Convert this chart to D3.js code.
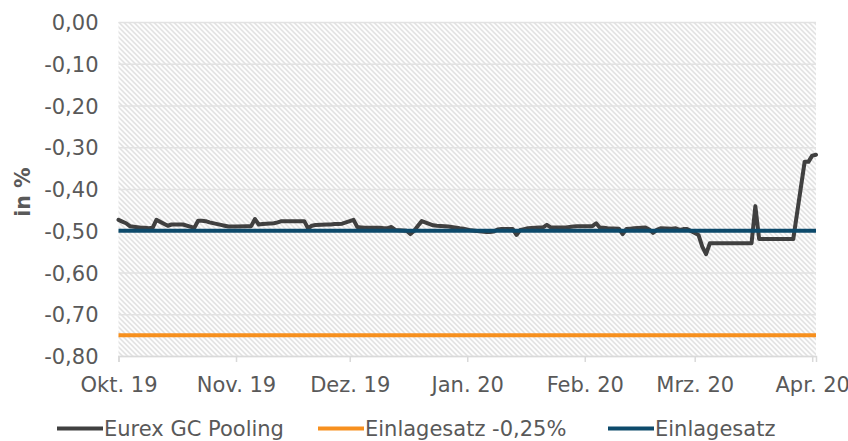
<!DOCTYPE html>
<html>
<head>
<meta charset="utf-8">
<script src="https://cdn.jsdelivr.net/npm/d3@7"></script>
<style>
  body { margin: 0; background: #fff; }
  svg { display: block; }
  svg text { font-family: "DejaVu Sans", Verdana, sans-serif; }
</style>
</head>
<body>
<script>
// Eurex GC Pooling, daily values (in %)
var poolDates = [
  "2019-10-01","2019-10-02","2019-10-03","2019-10-04","2019-10-07","2019-10-08","2019-10-09","2019-10-10","2019-10-11",
  "2019-10-14","2019-10-15","2019-10-16","2019-10-17","2019-10-18","2019-10-21","2019-10-22","2019-10-23","2019-10-24","2019-10-25",
  "2019-10-28","2019-10-29","2019-10-30","2019-10-31","2019-11-01","2019-11-04","2019-11-05","2019-11-06","2019-11-07","2019-11-08",
  "2019-11-11","2019-11-12","2019-11-13","2019-11-14","2019-11-15","2019-11-18","2019-11-19","2019-11-20","2019-11-21","2019-11-22",
  "2019-11-25","2019-11-26","2019-11-27","2019-11-28","2019-11-29","2019-12-02","2019-12-03","2019-12-04","2019-12-05","2019-12-06",
  "2019-12-09","2019-12-10","2019-12-11","2019-12-12","2019-12-13","2019-12-16","2019-12-17","2019-12-18","2019-12-19","2019-12-20",
  "2019-12-23","2019-12-24","2019-12-27","2019-12-30","2019-12-31","2020-01-02","2020-01-03","2020-01-06","2020-01-07","2020-01-08",
  "2020-01-09","2020-01-10","2020-01-13","2020-01-14","2020-01-15","2020-01-16","2020-01-17","2020-01-20","2020-01-21","2020-01-22",
  "2020-01-23","2020-01-24","2020-01-27","2020-01-28","2020-01-29","2020-01-30","2020-01-31","2020-02-03","2020-02-04","2020-02-05",
  "2020-02-06","2020-02-07","2020-02-10","2020-02-11","2020-02-12","2020-02-13","2020-02-14","2020-02-17","2020-02-18","2020-02-19",
  "2020-02-20","2020-02-21","2020-02-24","2020-02-25","2020-02-26","2020-02-27","2020-02-28","2020-03-02","2020-03-03","2020-03-04",
  "2020-03-05","2020-03-06","2020-03-09","2020-03-10","2020-03-11","2020-03-12","2020-03-13","2020-03-16","2020-03-17","2020-03-18",
  "2020-03-19","2020-03-20","2020-03-23","2020-03-24","2020-03-25","2020-03-26","2020-03-27","2020-03-30","2020-03-31","2020-04-01",
  "2020-04-02"
];
var poolValues = [
  -0.474,-0.478,-0.482,-0.489,-0.493,-0.493,-0.494,-0.493,-0.474,
  -0.488,-0.485,-0.485,-0.485,-0.485,-0.493,-0.476,-0.476,-0.477,-0.480,
  -0.486,-0.488,-0.490,-0.490,-0.490,-0.489,-0.489,-0.472,-0.485,-0.484,
  -0.482,-0.480,-0.477,-0.477,-0.477,-0.477,-0.477,-0.494,-0.488,-0.486,
  -0.485,-0.485,-0.484,-0.484,-0.483,-0.474,-0.491,-0.492,-0.493,-0.493,
  -0.493,-0.494,-0.494,-0.491,-0.498,-0.500,-0.508,-0.500,-0.488,-0.477,
  -0.487,-0.488,-0.490,-0.494,-0.495,-0.499,-0.500,-0.503,-0.503,-0.502,
  -0.497,-0.496,-0.496,-0.510,-0.498,-0.496,-0.494,-0.492,-0.492,-0.486,
  -0.492,-0.492,-0.492,-0.491,-0.490,-0.489,-0.489,-0.489,-0.482,-0.493,
  -0.493,-0.494,-0.495,-0.508,-0.496,-0.495,-0.494,-0.492,-0.497,-0.505,
  -0.498,-0.494,-0.495,-0.494,-0.498,-0.496,-0.496,-0.510,-0.538,-0.556,
  -0.530,-0.530,-0.530,-0.530,-0.530,-0.530,-0.530,-0.530,-0.441,-0.520,
  -0.520,-0.520,-0.520,-0.520,-0.520,-0.520,-0.520,-0.335,-0.335,-0.320,
  -0.318
];

// Einlagesatz and Einlagesatz -0,25%
var rateDates = ["2019-10-01", "2020-04-02"];
var depositValues = [-0.50, -0.50];
var depositMinusValues = [-0.75, -0.75];

// axis ticks
var xTickDates = ["2019-10-01","2019-11-01","2019-12-01","2020-01-01","2020-02-01","2020-03-01","2020-04-01"];
var xTickLabels = ["Okt. 19","Nov. 19","Dez. 19","Jan. 20","Feb. 20","Mrz. 20","Apr. 20"];
var yTicks = [0, -0.1, -0.2, -0.3, -0.4, -0.5, -0.6, -0.7, -0.8];
var yTickLabels = ["0,00","-0,10","-0,20","-0,30","-0,40","-0,50","-0,60","-0,70","-0,80"];

var seriesNames = ["Eurex GC Pooling", "Einlagesatz -0,25%", "Einlagesatz"];
var seriesColors = ["#404040", "#f7901e", "#0d4a6b"];

var parseDate = d3.timeParse("%Y-%m-%d");
var fontFamily = "DejaVu Sans, Verdana, sans-serif";

// Define margins
var margin = {top: 22, right: 32, bottom: 85, left: 118.5};
var outer_width = 848;
var outer_height = 441;
var width = outer_width - margin.left - margin.right;
var height = outer_height - margin.top - margin.bottom;

var svgRoot = d3.select("body").append("svg")
  .attr("width", outer_width)
  .attr("height", outer_height);

// hatched plot background
var defs = svgRoot.append("defs");
var pat = defs.append("pattern")
  .attr("id", "hatch")
  .attr("patternUnits", "userSpaceOnUse")
  .attr("width", 5).attr("height", 5);
pat.append("rect").attr("width", 5).attr("height", 5).attr("fill", "#fff");
pat.append("path")
  .attr("d", "M-1,-1 L6,6 M-1,4 L1,6 M4,-1 L6,1")
  .attr("stroke", "#dadada")
  .attr("stroke-width", 1.3);

var svg = svgRoot.append("g")
  .attr("transform", "translate(" + margin.left + "," + margin.top + ")");

var xScale = d3.scaleTime()
  .domain([parseDate(rateDates[0]), parseDate(rateDates[1])])
  .range([0, width]);

var yScale = d3.scaleLinear()
  .domain([-0.8, 0])
  .range([height, 0]);

svg.append("rect")
  .attr("width", width)
  .attr("height", height)
  .attr("fill", "url(#hatch)");

// horizontal gridlines
var grid = svg.append("g")
  .attr("class", "grid")
  .call(d3.axisLeft(yScale).tickValues(yTicks).tickSize(-width).tickFormat(""));
grid.select(".domain").remove();
grid.selectAll("line").attr("stroke", "#e2e2e2").attr("stroke-width", 1.5);

// y axis labels
var yAxis = svg.append("g")
  .call(d3.axisLeft(yScale)
    .tickValues(yTicks)
    .tickSize(0)
    .tickPadding(20)
    .tickFormat(function(d, i) { return yTickLabels[i]; }));
yAxis.attr("font-family", fontFamily).attr("font-size", 21);
yAxis.select(".domain").remove();
yAxis.selectAll("text")
  .attr("fill", "#595959")
  .attr("dy", "0.36em");

// x axis
var xAxis = svg.append("g")
  .attr("transform", "translate(0," + height + ")")
  .call(d3.axisBottom(xScale)
    .tickValues(xTickDates.map(parseDate))
    .tickSize(6)
    .tickPadding(15.5)
    .tickFormat(function(d, i) { return xTickLabels[i]; }));
xAxis.attr("font-family", fontFamily).attr("font-size", 21);
xAxis.select(".domain").attr("stroke", "#d9d9d9").attr("stroke-width", 1.5);
xAxis.selectAll("line").attr("stroke", "#d9d9d9").attr("stroke-width", 1.5);
xAxis.selectAll("text").attr("fill", "#595959");

// y axis title
svgRoot.append("text")
  .attr("transform", "translate(29.5,192) rotate(-90)")
  .attr("text-anchor", "middle")
  .attr("fill", "#595959")
  .attr("font-family", fontFamily)
  .attr("font-size", 20.5)
  .attr("font-weight", "bold")
  .text("in %");

// lines
var line = d3.line()
  .x(function(d) { return xScale(d.date); })
  .y(function(d) { return yScale(d.value); });

function toPoints(dates, values) {
  return dates.map(function(d, i) { return {date: parseDate(d), value: values[i]}; });
}

svg.append("path")
  .datum(toPoints(rateDates, depositMinusValues))
  .attr("d", line)
  .attr("fill", "none")
  .attr("stroke", seriesColors[1])
  .attr("stroke-width", 4);

svg.append("path")
  .datum(toPoints(poolDates, poolValues))
  .attr("d", line)
  .attr("fill", "none")
  .attr("stroke", seriesColors[0])
  .attr("stroke-width", 4)
  .attr("stroke-linejoin", "round")
  .attr("stroke-linecap", "round");

svg.append("path")
  .datum(toPoints(rateDates, depositValues))
  .attr("d", line)
  .attr("fill", "none")
  .attr("stroke", seriesColors[2])
  .attr("stroke-width", 4);

// legend
var legendX = [57, 318, 608];
var legend = svgRoot.append("g").attr("transform", "translate(0,428.5)");
var items = legend.selectAll("g")
  .data(seriesNames)
  .enter().append("g")
  .attr("transform", function(d, i) { return "translate(" + legendX[i] + ",0)"; });
items.append("line")
  .attr("x1", 0).attr("x2", 46)
  .attr("stroke", function(d, i) { return seriesColors[i]; })
  .attr("stroke-width", 4);
items.append("text")
  .attr("x", 47)
  .attr("dy", "0.36em")
  .attr("fill", "#595959")
  .attr("font-family", fontFamily)
  .attr("font-size", 21)
  .text(function(d) { return d; });
</script>
</body>
</html>
